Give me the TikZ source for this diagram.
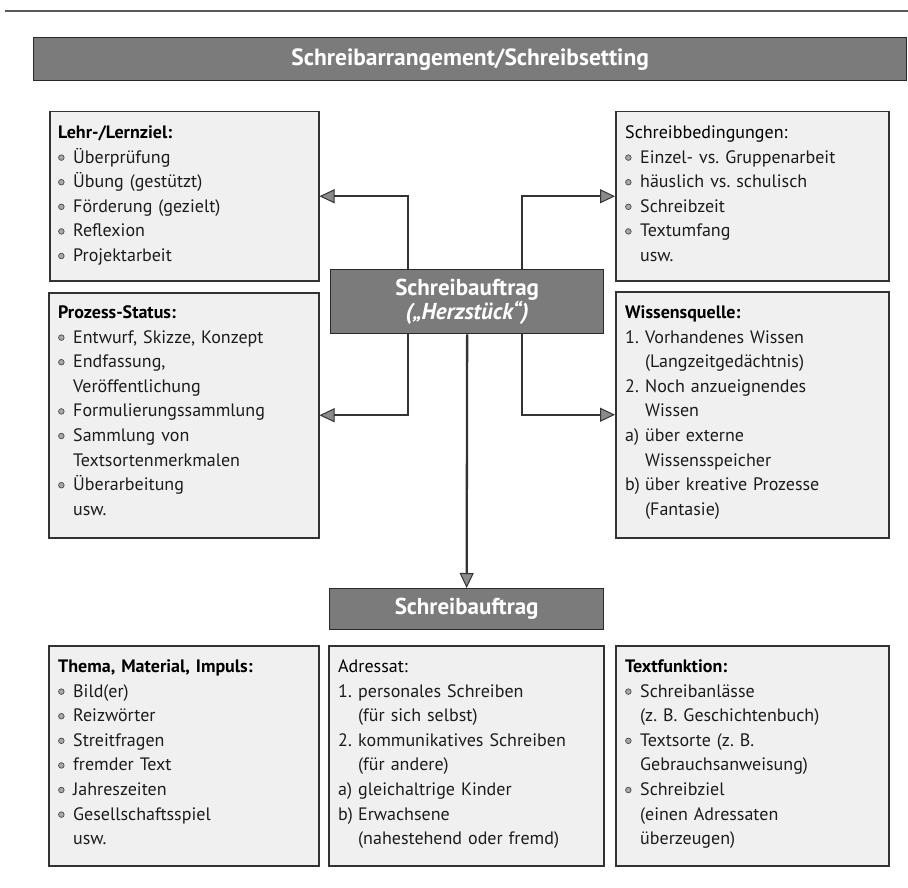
\documentclass[tikz,border=0pt]{standalone}
\usepackage{fontspec}
\setmainfont{PT Sans}
\usetikzlibrary{arrows.meta}
\definecolor{barfill}{HTML}{7B7B7B}
\definecolor{boxfill}{HTML}{F0F0F0}
\definecolor{edge}{HTML}{333333}
\definecolor{txtcol}{HTML}{1C1C1C}
\definecolor{tipfill}{HTML}{8A8A8A}
\definecolor{bulfill}{HTML}{A8A8A8}
\newcommand\bodyfont{\fontsize{18}{24.6}\selectfont\frenchspacing}
\newcommand\bul{\tikz[baseline=-0.6ex]\draw[fill=bulfill,draw=black!70,line width=0.7pt] (0pt,0pt) circle (2.8pt);}
\newcommand\bitem{\makebox[15pt][l]{\bul}}
\newcommand\cont{\hspace*{15pt}}
\newcommand\numi[1]{\makebox[20pt][l]{#1}}
\newcommand\numc{\hspace*{20pt}}
\tikzset{
  box/.style={draw=edge,line width=1.5pt,fill=boxfill,anchor=north west,inner sep=0pt},
  bar/.style={draw=edge!80!black,line width=1.3pt,fill=barfill,anchor=north west,inner sep=0pt,text=white,font=\bfseries\fontsize{23}{24}\selectfont,align=center},
  txt/.style={anchor=north west,inner sep=0pt,text width=262pt,align=left,font=\bodyfont,text=txtcol},
  conn/.style={draw=edge,line width=2.3pt,-{Triangle[length=15pt,width=14pt,fill=tipfill,line width=1pt]}},
  topline/.style={draw=black!65,line width=1.3pt}
}
\begin{document}
\begin{tikzpicture}[x=1pt,y=-1pt]
\useasboundingbox (0,0) rectangle (908,888);
\coordinate (tl1) at (5,11);
\coordinate (tl2) at (908,11);
\draw[topline] (tl1) -- (tl2);

% title bar
\node[bar,minimum width=873pt,minimum height=43pt,font=\bfseries\fontsize{23.5}{24}\selectfont] (title) at (33,37) {Schreibarrangement/Schreibsetting};

% top boxes
\node[box,minimum width=269pt,minimum height=169pt] (lern) at (49,111) {};
\node[box,minimum width=273pt,minimum height=169pt] (bed) at (615,111) {};
\node[box,minimum width=270pt,minimum height=245pt] (proz) at (48,292) {};
\node[box,minimum width=273pt,minimum height=246pt] (wiss) at (615,291) {};

% central bars
\node[bar,minimum width=273pt,minimum height=64pt] (herz) at (330,269) {Schreibauftrag\\\textit{(„Herzstück“)}};
\node[bar,minimum width=274pt,minimum height=41pt] (auftrag) at (329,588) {Schreibauftrag};

% bottom boxes
\node[box,minimum width=270pt,minimum height=220pt] (thema) at (48,645) {};
\node[box,minimum width=275pt,minimum height=220pt] (adr) at (328,645) {};
\node[box,minimum width=273pt,minimum height=220pt] (tfkt) at (615,645) {};

% texts
\node[txt] (lernT) at ([shift={(9,10)}]lern.north west) {\strut{\bfseries\color{black}Lehr-/Lernziel:}\\
\bitem Überprüfung\\
\bitem Übung (gestützt)\\
\bitem Förderung (gezielt)\\
\bitem Reflexion\\
\bitem Projektarbeit};

\node[txt] (bedT) at ([shift={(10,10)}]bed.north west) {\strut{\color{black}Schreibbedingungen:}\\
\bitem Einzel- vs. Gruppenarbeit\\
\bitem häuslich vs. schulisch\\
\bitem Schreibzeit\\
\bitem Textumfang\\
\cont usw.};

\node[txt] (prozT) at ([shift={(10,9)}]proz.north west) {\strut{\bfseries\color{black}Prozess-Status:}\\
\bitem Entwurf, Skizze, Konzept\\
\bitem Endfassung,\\
\cont Veröffentlichung\\
\bitem Formulierungssammlung\\
\bitem Sammlung von\\
\cont Textsortenmerkmalen\\
\bitem Überarbeitung\\
\cont usw.};

\node[txt] (wissT) at ([shift={(10,10)}]wiss.north west) {\strut{\bfseries\color{black}Wissensquelle:}\\
\numi{1.}Vorhandenes Wissen\\
\numc(Langzeitgedächtnis)\\
\numi{2.}Noch anzueignendes\\
\numc Wissen\\
\numi{a)}über externe\\
\numc Wissensspeicher\\
\numi{b)}über kreative Prozesse\\
\numc(Fantasie)};

\node[txt] (themaT) at ([shift={(10,10)}]thema.north west) {\strut{\bfseries\color{black}Thema, Material, Impuls:}\\
\bitem Bild(er)\\
\bitem Reizwörter\\
\bitem Streitfragen\\
\bitem fremder Text\\
\bitem Jahreszeiten\\
\bitem Gesellschaftsspiel\\
\cont usw.};

\node[txt] (adrT) at ([shift={(10,10)}]adr.north west) {\strut{\color{black}Adressat:}\\
\numi{1.}personales Schreiben\\
\numc(für sich selbst)\\
\numi{2.}kommunikatives Schreiben\\
\numc(für andere)\\
\numi{a)}gleichaltrige Kinder\\
\numi{b)}Erwachsene\\
\numc(nahestehend oder fremd)};

\node[txt] (tfktT) at ([shift={(10,10)}]tfkt.north west) {\strut{\bfseries\color{black}Textfunktion:}\\
\bitem Schreibanlässe\\
\cont (z. B. Geschichtenbuch)\\
\bitem Textsorte (z. B.\\
\cont Gebrauchsanweisung)\\
\bitem Schreibziel\\
\cont (einen Adressaten\\
\cont überzeugen)};

% connectors
\coordinate (cL) at (408,0);
\coordinate (cR) at (522,0);
\draw[conn] (herz.north -| cL) |- (lern.east);
\draw[conn] (herz.north -| cR) |- (bed.west);
\draw[conn] (herz.south -| cL) |- (proz.east);
\draw[conn] (herz.south -| cR) |- (wiss.west);
\draw[conn] (herz.south) -- (auftrag.north);
\end{tikzpicture}
\end{document}
